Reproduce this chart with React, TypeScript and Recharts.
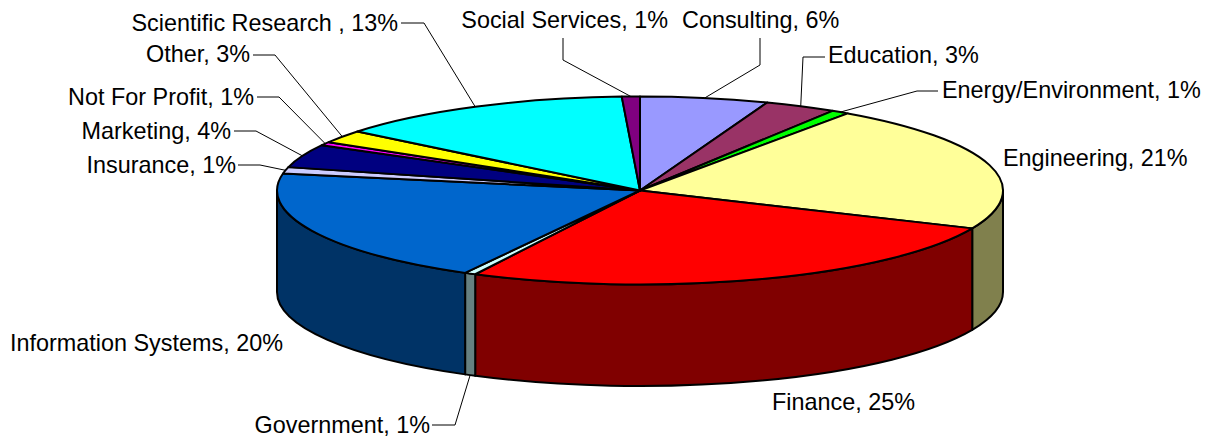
import { PieChart, Pie } from "recharts";

// share of the disc as drawn, read from the slice edges
const names = [
  "Consulting",
  "Education",
  "Energy/Environment",
  "Engineering",
  "Finance",
  "Government",
  "Information Systems",
  "Insurance",
  "Marketing",
  "Not For Profit",
  "Other",
  "Scientific Research ",
  "Social Services",
];
const shares = [5.7, 3.2, 0.8, 21.9, 25.9, 0.5, 19.9, 1.1, 4, 0.6, 2.2, 13.4, 0.8];
const percentLabels = [6, 3, 1, 21, 25, 1, 20, 1, 4, 1, 3, 13, 1];
const COLORS = [
  "#9999ff",
  "#993366",
  "#00ff00",
  "#ffff99",
  "#ff0000",
  "#ccffff",
  "#0066cc",
  "#ccccff",
  "#000080",
  "#ff00ff",
  "#ffff00",
  "#00ffff",
  "#800080",
];

const data = names.map((name, i) => ({
  name,
  value: shares[i],
  percent: percentLabels[i],
  fill: COLORS[i],
}));

const WIDTH = 1212;
const HEIGHT = 438;
const CX = 640;
const CY = 190.5;
const RX = 363;
const RY = 94;
const DEPTH = 101.5;
const RADIAN = Math.PI / 180;

// text anchor, baseline and optional leader elbow [startX, startY, elbowX, elbowY]
const labelLayout: Record<string, any> = {
  Consulting: { x: 682, y: 27.5, anchor: "start", leader: [760, 38, 760, 65] },
  Education: { x: 828, y: 63, anchor: "start", leader: [825, 57, 803, 57] },
  "Energy/Environment": { x: 942, y: 98, anchor: "start", leader: [938, 91, 917, 91] },
  Engineering: { x: 1003, y: 166, anchor: "start" },
  Finance: { x: 772, y: 410, anchor: "start" },
  Government: { x: 430, y: 433, anchor: "end", leader: [432, 425, 455, 425] },
  "Information Systems": { x: 283, y: 351, anchor: "end" },
  Insurance: { x: 236, y: 173, anchor: "end", leader: [238, 165, 260, 165] },
  Marketing: { x: 231, y: 139, anchor: "end", leader: [234, 131, 256, 131] },
  "Not For Profit": { x: 254, y: 105, anchor: "end", leader: [257, 97, 279, 97] },
  Other: { x: 250, y: 62, anchor: "end", leader: [253, 55, 275, 55] },
  "Scientific Research ": { x: 398, y: 31, anchor: "end", leader: [401, 23, 424, 23] },
  "Social Services": { x: 668, y: 27.5, anchor: "end", leader: [563, 38, 563, 60] },
};

const halve = (hex: string) => {
  const n = parseInt(hex.slice(1), 16);
  const part = (v: number) => Math.round(v / 2);
  return `rgb(${part((n >> 16) & 255)},${part((n >> 8) & 255)},${part(n & 255)})`;
};

const onRim = (angle: number, drop = 0) => ({
  x: CX + RX * Math.cos(angle * RADIAN),
  y: CY - RY * Math.sin(angle * RADIAN) + drop,
});

// slice drawn on the tilted disc, with its wall where it faces the viewer
const Slice3D = (props: any) => {
  const { startAngle, endAngle, fill } = props;
  const hi = Math.max(startAngle, endAngle);
  const lo = Math.min(startAngle, endAngle);
  const a = onRim(hi);
  const b = onRim(lo);
  const large = hi - lo > 180 ? 1 : 0;
  const top = `M${CX},${CY} L${a.x},${a.y} A${RX},${RY} 0 ${large} 1 ${b.x},${b.y} Z`;

  // the front of the disc runs from 0 down to -180 in pie angles
  const wallHi = Math.min(hi, 0);
  const wallLo = Math.max(lo, -180);
  let wall = null;
  if (wallHi > wallLo) {
    const p = onRim(wallHi);
    const q = onRim(wallLo);
    const qd = onRim(wallLo, DEPTH);
    const pd = onRim(wallHi, DEPTH);
    const d = `M${p.x},${p.y} A${RX},${RY} 0 0 1 ${q.x},${q.y} L${qd.x},${qd.y} A${RX},${RY} 0 0 0 ${pd.x},${pd.y} Z`;
    wall = <path d={d} fill={halve(fill)} stroke="#000" strokeWidth={2} strokeLinejoin="round" />;
  }
  return (
    <g>
      {wall}
      <path d={top} fill={fill} stroke="#000" strokeWidth={2} strokeLinejoin="round" />
    </g>
  );
};

const renderLabel = (props: any) => {
  const { midAngle, index } = props;
  const entry = data[index];
  const layout = labelLayout[entry.name];
  const inFront = Math.sin(midAngle * RADIAN) < 0;
  const end = onRim(midAngle, inFront ? DEPTH : 0);
  return (
    <g>
      {layout.leader && (
        <polyline
          points={`${layout.leader[0]},${layout.leader[1]} ${layout.leader[2]},${layout.leader[3]} ${end.x},${end.y}`}
          fill="none"
          stroke="#000"
          strokeWidth={1}
        />
      )}
      <text
        x={layout.x}
        y={layout.y}
        textAnchor={layout.anchor}
        fontFamily="Liberation Sans"
        fontSize={23.4}
        fill="#000"
      >
        {`${entry.name}, ${entry.percent}%`}
      </text>
    </g>
  );
};

export default function App() {
  return (
    <div style={{ position: "absolute", left: 0, top: 0, width: WIDTH, height: HEIGHT, background: "#fff" }}>
      <PieChart width={WIDTH} height={HEIGHT} margin={{ top: 0, right: 0, bottom: 0, left: 0 }}>
        <Pie
          data={data}
          dataKey="value"
          cx={CX}
          cy={CY}
          innerRadius={0}
          outerRadius={RX}
          startAngle={90}
          endAngle={-270}
          paddingAngle={0}
          shape={Slice3D}
          label={renderLabel}
          labelLine={false}
          isAnimationActive={false}
        />
      </PieChart>
    </div>
  );
}
